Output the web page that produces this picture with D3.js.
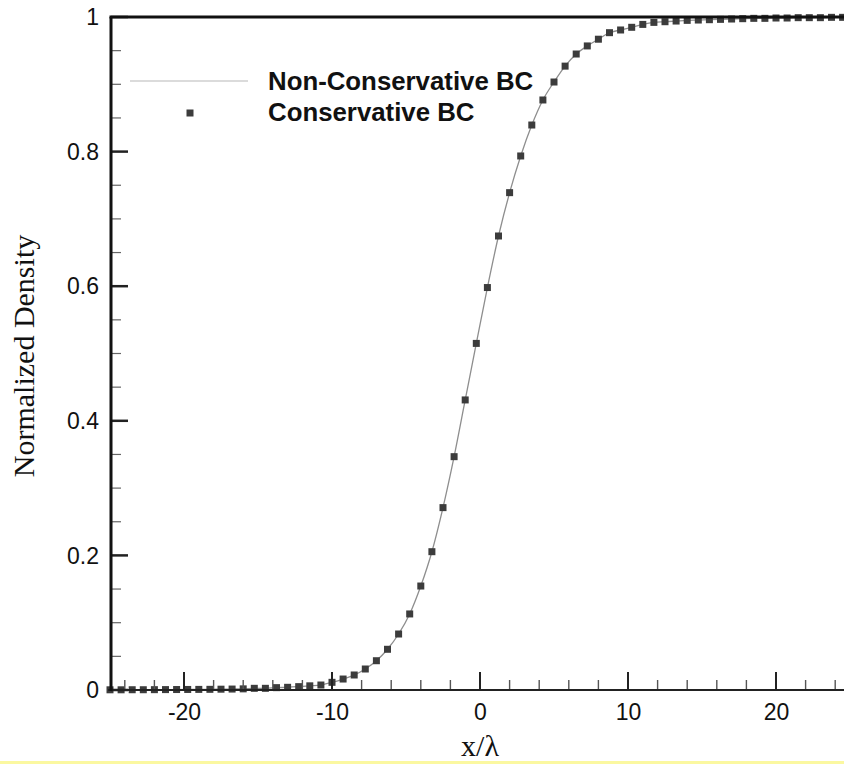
<!DOCTYPE html>
<html>
<head>
<meta charset="utf-8">
<script src="https://cdn.jsdelivr.net/npm/d3@7/dist/d3.min.js"></script>
<style>
  html, body { margin: 0; padding: 0; background: #fff; }
  svg { display: block; }
  .tick-label { font-family: "Liberation Sans", Arial, sans-serif; font-size: 23px; fill: #111; }
  .legend-label { font-family: "Liberation Sans", Arial, sans-serif; font-size: 25.8px; font-weight: bold; fill: #111; }
  .axis-title { font-family: "Liberation Serif", "Times New Roman", serif; font-size: 30px; fill: #111; }
</style>
</head>
<body>
<svg id="chart" width="844" height="764"></svg>
<script>
/* ── Data ──────────────────────────────────────────────────────────────── */
const xPositions = [
  -25, -24.25, -23.5, -22.75, -22, -21.25, -20.5, -19.75, -19, -18.25,
  -17.5, -16.75, -16, -15.25, -14.5, -13.75, -13, -12.25, -11.5, -10.75,
  -10, -9.25, -8.5, -7.75, -7, -6.25, -5.5, -4.75, -4, -3.25,
  -2.5, -1.75, -1, -0.25, 0.5, 1.25, 2, 2.75, 3.5, 4.25,
  5, 5.75, 6.5, 7.25, 8, 8.75, 9.5, 10.25, 11, 11.75,
  12.5, 13.25, 14, 14.75, 15.5, 16.25, 17, 17.75, 18.5, 19.25,
  20, 20.75, 21.5, 22.25, 23, 23.75, 24.5
];
const densityValues = [
  0.0003, 0.0003, 0.0004, 0.0004, 0.0005, 0.0006, 0.0007, 0.0008, 0.0009, 0.0010,
  0.0012, 0.0014, 0.0017, 0.0025, 0.0025, 0.0035, 0.0040, 0.0050, 0.0062, 0.0074,
  0.0114, 0.0163, 0.0223, 0.0312, 0.0435, 0.0605, 0.0832, 0.1130, 0.1545, 0.2055,
  0.2710, 0.3467, 0.4310, 0.5150, 0.5980, 0.6746, 0.7390, 0.7935, 0.8395, 0.8767,
  0.9034, 0.9270, 0.9450, 0.9570, 0.9670, 0.9767, 0.9807, 0.9847, 0.9890, 0.9920,
  0.9930, 0.9940, 0.9950, 0.9955, 0.9960, 0.9965, 0.9970, 0.9975, 0.9980, 0.9980,
  0.9985, 0.9985, 0.9990, 0.9990, 0.9990, 0.9995, 0.9995
];
const xMajorTicks = [-20, -10, 0, 10, 20];
const xMinorTicks = [-24, -22, -18, -16, -14, -12, -8, -6, -4, -2, 2, 4, 6, 8, 12, 14, 16, 18, 22, 24];
const yMajorTicks = [0, 0.2, 0.4, 0.6, 0.8, 1];
const yMinorTicks = [0.05, 0.1, 0.15, 0.25, 0.3, 0.35, 0.45, 0.5, 0.55, 0.65, 0.7, 0.75, 0.85, 0.9, 0.95];
const yTickText = ['0', '0.2', '0.4', '0.6', '0.8', '1'];
const legendNames = ['Non-Conservative BC', 'Conservative BC'];

const points = xPositions.map((x, i) => ({ x, y: densityValues[i] }));

/* ── Layout ────────────────────────────────────────────────────────────── */
const svg = d3.select('#chart');
const M = { l: 111, t: 17, b: 690, r: 850 };

const x = d3.scaleLinear().domain([-25, 25]).range([M.l - 1, M.r]);
const y = d3.scaleLinear().domain([0, 1]).range([M.b, M.t]);

/* ── Curve + markers ───────────────────────────────────────────────────── */
const line = d3.line().x(d => x(d.x)).y(d => y(d.y)).curve(d3.curveMonotoneX);
svg.append('path').datum(points)
  .attr('d', line).attr('fill', 'none')
  .attr('stroke', '#8e8e8e').attr('stroke-width', 1.3);

const S = 7;
svg.append('g').selectAll('rect').data(points).join('rect')
  .attr('x', d => x(d.x) - S / 2).attr('y', d => y(d.y) - S / 2)
  .attr('width', S).attr('height', S).attr('fill', '#3c3c3c');

/* ── Axes (ticks point inward) ─────────────────────────────────────────── */
const axX = d3.axisBottom(x).tickValues(xMajorTicks).tickSize(0).tickPadding(14).tickFormat(d3.format('d'));
const gx = svg.append('g').attr('transform', `translate(0,${M.b})`).call(axX);
gx.select('.domain').remove();
gx.selectAll('text').attr('class', 'tick-label').attr('font-size', null).attr('font-family', null)
  .text(d => d < 0 ? '-' + Math.abs(d) : d);

svg.append('g').selectAll('line').data(xMinorTicks).join('line')
  .attr('x1', d => x(d)).attr('x2', d => x(d)).attr('y1', M.b).attr('y2', M.b - 10)
  .attr('stroke', '#555').attr('stroke-width', 1.4);
svg.append('g').selectAll('line').data(xMajorTicks).join('line')
  .attr('x1', d => x(d)).attr('x2', d => x(d)).attr('y1', M.b).attr('y2', M.b - 18)
  .attr('stroke', '#222').attr('stroke-width', 2);

svg.append('g').selectAll('line').data(yMinorTicks).join('line')
  .attr('x1', M.l).attr('x2', M.l + 10).attr('y1', d => y(d)).attr('y2', d => y(d))
  .attr('stroke', '#666').attr('stroke-width', 1.2);
svg.append('g').selectAll('line').data(yMajorTicks).join('line')
  .attr('x1', M.l).attr('x2', M.l + 17).attr('y1', d => y(d)).attr('y2', d => y(d))
  .attr('stroke', '#222').attr('stroke-width', 2.5);

svg.append('g').selectAll('text').data(yMajorTicks).join('text')
  .attr('class', 'tick-label').attr('x', 99).attr('y', d => y(d)).attr('dy', '0.36em')
  .attr('text-anchor', 'end').text((d, i) => yTickText[i]);

// frame
svg.append('line').attr('x1', M.l - 3).attr('x2', 844).attr('y1', M.b).attr('y2', M.b)
  .attr('stroke', '#222').attr('stroke-width', 2);
svg.append('line').attr('x1', M.l).attr('x2', M.l).attr('y1', M.t).attr('y2', M.b + 1)
  .attr('stroke', '#111').attr('stroke-width', 3);
svg.append('line').attr('x1', M.l - 1.5).attr('x2', 844).attr('y1', M.t).attr('y2', M.t)
  .attr('stroke', '#111').attr('stroke-width', 3);

/* ── Legend ────────────────────────────────────────────────────────────── */
svg.append('line').attr('x1', 130).attr('x2', 248).attr('y1', 81).attr('y2', 81)
  .attr('stroke', '#cfcfcf').attr('stroke-width', 1.5);
svg.append('rect').attr('x', 190 - S / 2).attr('y', 113 - S / 2).attr('width', S).attr('height', S)
  .attr('fill', '#3c3c3c');
svg.append('text').attr('class', 'legend-label').attr('x', 268).attr('y', 90).text(legendNames[0]);
svg.append('text').attr('class', 'legend-label').attr('x', 268).attr('y', 121).text(legendNames[1]);

/* ── Titles ────────────────────────────────────────────────────────────── */
svg.append('text').attr('class', 'axis-title')
  .attr('transform', 'translate(34,356) rotate(-90)').attr('text-anchor', 'middle')
  .text('Normalized Density');
svg.append('text').attr('class', 'axis-title')
  .attr('x', 480).attr('y', 756).attr('text-anchor', 'middle').text('x/λ');

// pale yellow strip along the bottom edge
svg.append('rect').attr('x', 0).attr('y', 761).attr('width', 844).attr('height', 3).attr('fill', '#fbf8a0');
</script>
</body>
</html>
